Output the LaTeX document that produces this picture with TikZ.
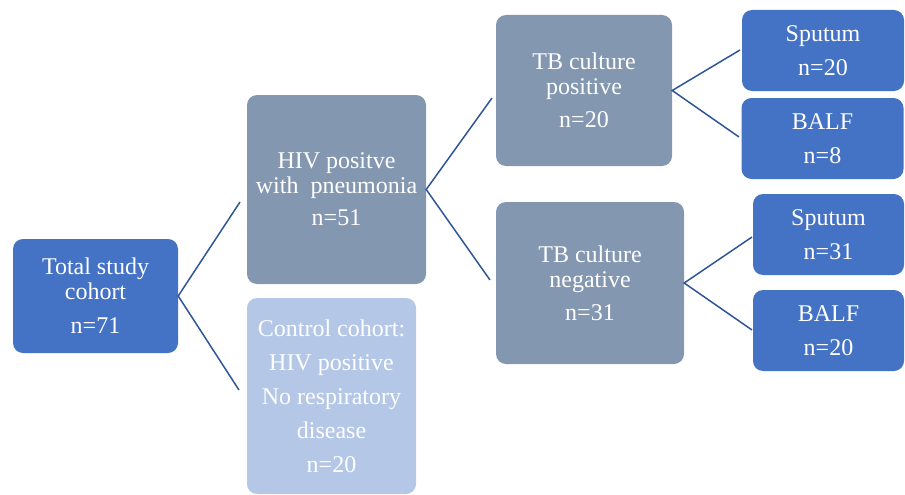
\documentclass[tikz,border=0pt]{standalone}
\usepackage{fontspec}
\setmainfont{Liberation Serif}
\usetikzlibrary{calc}
\definecolor{cohortblue}{RGB}{68,114,196}
\definecolor{groupgrey}{RGB}{132,151,176}
\definecolor{controlblue}{RGB}{180,199,231}
\definecolor{linkblue}{RGB}{47,85,151}

\begin{document}
\begin{tikzpicture}[x=1pt,y=-1pt]
%
% Styles
%
\tikzset{every node/.style={font=\fontsize{24}{25}\selectfont, text=white, align=center, inner sep=0pt}};%
\tikzset{boite/.style={rounded corners=10pt, fill=#1, minimum width=\largeur, minimum height=\hauteur}};%
\tikzset{lien/.style={linkblue, line width=1.5pt}};%

%
% Bounding box
%
\useasboundingbox (0,0) rectangle (905,495);%

%
% Boxes
%
\def\largeur{165pt}\def\hauteur{114pt}%
\node[boite=cohortblue] (total) at (95.5,296) {Total study\\cohort\\[9pt]n=71};%
\def\largeur{179pt}\def\hauteur{189pt}%
\node[boite=groupgrey] (hiv) at (336.5,189.5) {HIV positve\\with\ \ pneumonia\\[7pt]n=51};%
\def\largeur{169pt}\def\hauteur{196pt}%
\node[boite=controlblue, font=\fontsize{24}{34}\selectfont] (controle) at (331.5,396) {Control cohort:\\HIV positive\\No respiratory\\disease\\n=20};%
\def\largeur{176pt}\def\hauteur{151pt}%
\node[boite=groupgrey] (tbpos) at (584,90.5) {TB culture\\positive\\[8pt]n=20};%
\def\largeur{188pt}\def\hauteur{162pt}%
\node[boite=groupgrey] (tbneg) at (590,283) {TB culture\\negative\\[8pt]n=31};%
\def\largeur{162pt}\def\hauteur{81pt}%
\node[boite=cohortblue, font=\fontsize{24}{34}\selectfont] (sputpos) at (823,50.5) {Sputum\\n=20};%
\node[boite=cohortblue, font=\fontsize{24}{34}\selectfont] (balfpos) at (822.5,138.5) {BALF\\n=8};%
\def\largeur{151pt}\def\hauteur{81pt}%
\node[boite=cohortblue, font=\fontsize{24}{34}\selectfont] (sputneg) at (828.5,234.5) {Sputum\\n=31};%
\node[boite=cohortblue, font=\fontsize{24}{34}\selectfont] (balfneg) at (828.5,330.5) {BALF\\n=20};%

%
% Free ends of the links
%
\coordinate (hivend) at (240,202);%
\coordinate (ctrlend) at (239,390);%
\coordinate (tbposend) at (492,98);%
\coordinate (tbnegend) at (490,280);%
\coordinate (sputposend) at (740,50);%
\coordinate (balfposend) at (739,137);%
\coordinate (sputnegend) at (752,237);%
\coordinate (balfnegend) at (752,330);%

% Links
\draw[lien] (hivend) -- (total.east) -- (ctrlend);%
\draw[lien] (tbposend) -- (hiv.east) -- (tbnegend);%
\draw[lien] (sputposend) -- (tbpos.east) -- (balfposend);%
\draw[lien] (sputnegend) -- (tbneg.east) -- (balfnegend);%
\end{tikzpicture}
\end{document}
